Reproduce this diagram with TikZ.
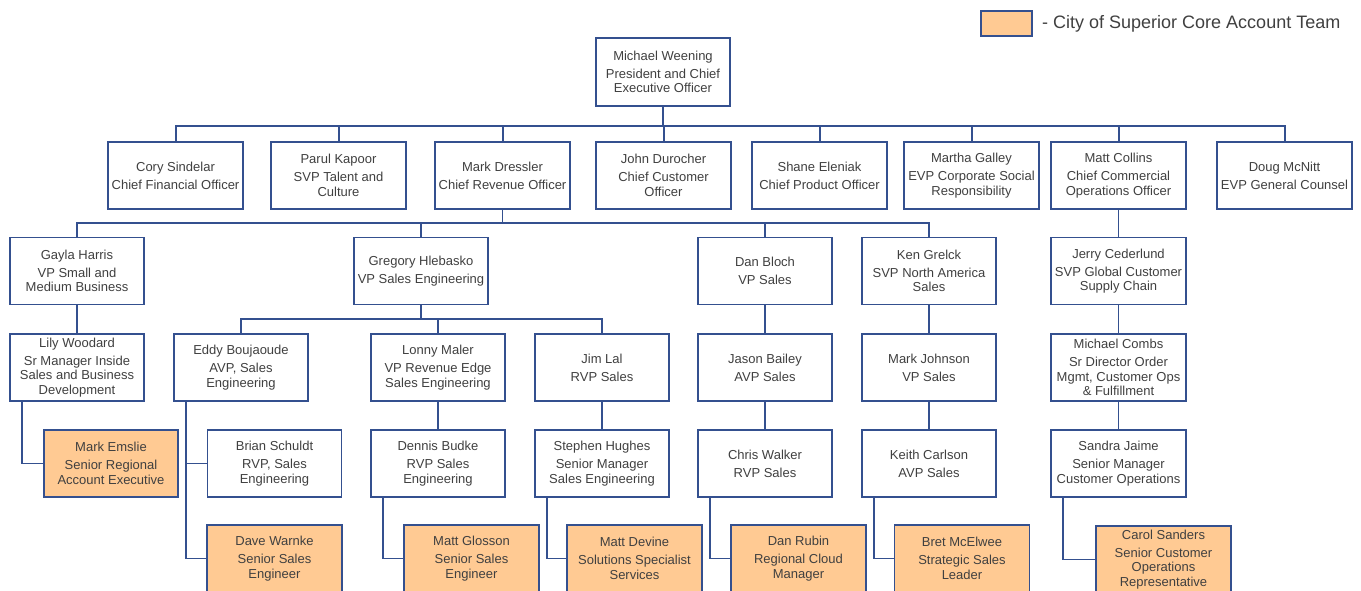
\documentclass[tikz,border=0pt]{standalone}
\usepackage{fontspec}
\setmainfont{Liberation Sans}
\usetikzlibrary{positioning}

\definecolor{boxblue}{HTML}{34508F}
\definecolor{coreorange}{HTML}{FFCA93}
\definecolor{textgray}{HTML}{404040}

% name line, then title lines
\newcommand{\card}[2]{#1\\[3.5pt]#2}

\begin{document}
\begin{tikzpicture}[
    x=1pt, y=-1pt,
    % Person box style
    person/.style={
        rectangle,
        draw=boxblue,
        line width=1.5pt,
        fill=white,
        minimum width=134pt,
        minimum height=67pt,
        inner sep=0pt,
        align=center,
        text=textgray,
        font=\fontsize{13}{14.5}\selectfont
    },
    % Core account team box style
    core/.style={
        person,
        fill=coreorange
    },
    % Connector style
    link/.style={
        draw=boxblue,
        line width=1.7pt
    }
]

\useasboundingbox (0,0) rectangle (1361,591);
\clip (0,0) rectangle (1361,591);
\fill[white] (0,0) rectangle (1361,591);

% === Legend ===
\node[rectangle, draw=boxblue, line width=1.5pt, fill=coreorange,
      minimum width=51pt, minimum height=25pt] (swatch) at (1006.5,23.5) {};
\node[anchor=west, text=textgray, inner sep=0pt,
      font=\fontsize{18}{20}\selectfont] (legend) at (1042,23.5)
      {- City of Superior Core Account Team};

% === Level 0: CEO ===
\node[person, minimum height=68pt] (weening) at (663,72)
    {\card{Michael Weening}{President and Chief\\Executive Officer}};

% === Level 1: Executive team ===
\node[person, minimum width=135pt] (sindelar) at (175.5,175.5) {\card{Cory Sindelar}{Chief Financial Officer}};
\node[person, minimum width=135pt] (kapoor) at (338.5,175.5) {\card{Parul Kapoor}{SVP Talent and\\Culture}};
\node[person, minimum width=135pt] (dressler) at (502.5,175.5) {\card{Mark Dressler}{Chief Revenue Officer}};
\node[person, minimum width=135pt] (durocher) at (663.5,175.5) {\card{John Durocher}{Chief Customer\\Officer}};
\node[person, minimum width=135pt] (eleniak) at (819.5,175.5) {\card{Shane Eleniak}{Chief Product Officer}};
\node[person, minimum width=135pt] (galley) at (971.5,175.5) {\card{Martha Galley}{EVP Corporate Social\\Responsibility}};
\node[person, minimum width=135pt] (collins) at (1118.5,175.5) {\card{Matt Collins}{Chief Commercial\\Operations Officer}};
\node[person, minimum width=135pt] (mcnitt) at (1284.5,175.5) {\card{Doug McNitt}{EVP General Counsel}};

% === Level 2 ===
\node[person] (harris) at (77,271) {\card{Gayla Harris}{VP Small and\\Medium Business}};
\node[person] (hlebasko) at (421,271) {\card{Gregory Hlebasko}{VP Sales Engineering}};
\node[person] (bloch) at (765,271) {\card{Dan Bloch}{VP Sales}};
\node[person] (grelck) at (929,271) {\card{Ken Grelck}{SVP North America\\Sales}};
\node[person, minimum width=135pt] (cederlund) at (1118.5,271) {\card{Jerry Cederlund}{SVP Global Customer\\Supply Chain}};

% === Level 3 ===
\node[person] (woodard) at (77,367.5) {\card{Lily Woodard}{Sr Manager Inside\\Sales and Business\\Development}};
\node[person] (boujaoude) at (241,367.5) {\card{Eddy Boujaoude}{AVP, Sales\\Engineering}};
\node[person] (maler) at (438,367.5) {\card{Lonny Maler}{VP Revenue Edge\\Sales Engineering}};
\node[person] (lal) at (602,367.5) {\card{Jim Lal}{RVP Sales}};
\node[person] (bailey) at (765,367.5) {\card{Jason Bailey}{AVP Sales}};
\node[person] (johnson) at (929,367.5) {\card{Mark Johnson}{VP Sales}};
\node[person, minimum width=135pt] (combs) at (1118.5,367.5) {\card{Michael Combs}{Sr Director Order\\Mgmt, Customer Ops\\\& Fulfillment}};

% === Level 4 ===
\node[core] (emslie) at (111,463.5) {\card{Mark Emslie}{Senior Regional\\Account Executive}};
\node[person] (schuldt) at (274.5,463.5) {\card{Brian Schuldt}{RVP, Sales\\Engineering}};
\node[person] (budke) at (438,463.5) {\card{Dennis Budke}{RVP Sales\\Engineering}};
\node[person] (hughes) at (602,463.5) {\card{Stephen Hughes}{Senior Manager\\Sales Engineering}};
\node[person] (walker) at (765,463.5) {\card{Chris Walker}{RVP Sales}};
\node[person] (carlson) at (929,463.5) {\card{Keith Carlson}{AVP Sales}};
\node[person, minimum width=135pt] (jaime) at (1118.5,463.5) {\card{Sandra Jaime}{Senior Manager\\Customer Operations}};

% === Level 5: core account team ===
\node[core, minimum width=135pt] (warnke) at (274.5,558.5) {\card{Dave Warnke}{Senior Sales\\Engineer}};
\node[core, minimum width=135pt] (glosson) at (471.5,558.5) {\card{Matt Glosson}{Senior Sales\\Engineer}};
\node[core, minimum width=135pt] (devine) at (634.5,558.5) {\card{Matt Devine}{Solutions Specialist\\Services}};
\node[core, minimum width=135pt] (rubin) at (798.5,558.5) {\card{Dan Rubin}{Regional Cloud\\Manager}};
\node[core, minimum width=135pt] (mcelwee) at (962,558.5) {\card{Bret McElwee}{Strategic Sales\\Leader}};
\node[core, minimum width=135pt] (sanders) at (1163.5,559.5) {\card{Carol Sanders}{Senior Customer\\Operations\\Representative}};

% === Connectors: buses ===
\foreach \n in {sindelar, kapoor, dressler, durocher, eleniak, galley, collins, mcnitt}
    \draw[link, line width=2pt] (weening.south) |- ([yshift=15pt]\n.north) -- (\n.north);
\foreach \n in {harris, hlebasko, bloch, grelck}
    \draw[link] (dressler.south) |- ([yshift=14pt]\n.north) -- (\n.north);
\foreach \n in {boujaoude, maler, lal}
    \draw[link] (hlebasko.south) |- ([yshift=14pt]\n.north) -- (\n.north);

% === Connectors: straight down ===
\draw[link] (collins) -- (cederlund);
\draw[link] (cederlund) -- (combs);
\draw[link] (combs) -- (jaime);
\draw[link] (harris) -- (woodard);
\draw[link] (maler) -- (budke);
\draw[link] (lal) -- (hughes);
\draw[link] (bloch) -- (bailey);
\draw[link] (bailey) -- (walker);
\draw[link] (grelck) -- (johnson);
\draw[link] (johnson) -- (carlson);

% === Connectors: side elbows ===
\draw[link] ([xshift=13pt]woodard.south west) |- (emslie.west);
\draw[link] ([xshift=12.6pt]boujaoude.south west) |- (schuldt.west);
\draw[link] ([xshift=12.6pt]boujaoude.south west) |- (warnke.west);
\draw[link] ([xshift=13pt]budke.south west) |- (glosson.west);
\draw[link] ([xshift=13pt]hughes.south west) |- (devine.west);
\draw[link] ([xshift=13pt]walker.south west) |- (rubin.west);
\draw[link] ([xshift=13pt]carlson.south west) |- (mcelwee.west);
\draw[link] ([xshift=13pt]jaime.south west) |- (sanders.west);

\end{tikzpicture}
\end{document}
